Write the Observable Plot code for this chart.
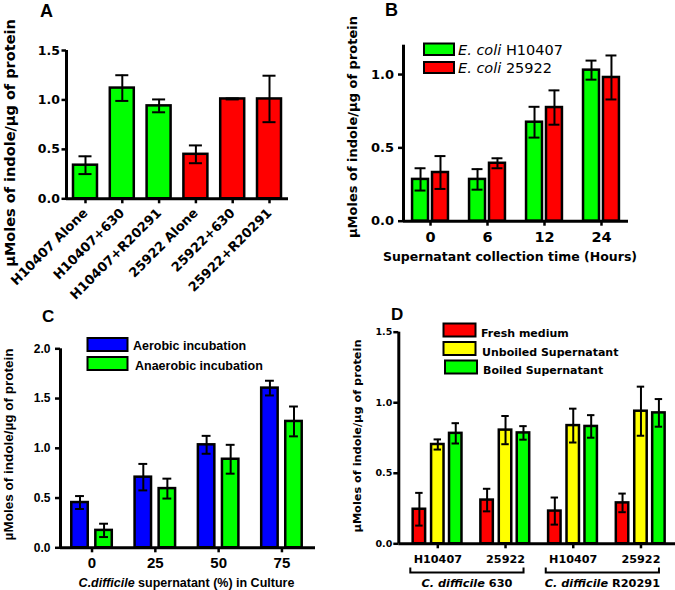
<!DOCTYPE html>
<html><head><meta charset="utf-8">
<script src="https://cdn.jsdelivr.net/npm/d3@7"></script>
<script src="https://cdn.jsdelivr.net/npm/@observablehq/plot@0.6"></script>
<style>
body{margin:0;background:#fff;}
#wrap{position:relative;width:675px;height:590px;overflow:hidden;background:#fff;}
#wrap svg{position:absolute;left:0;top:0;}
</style></head><body><div id="wrap"></div>
<script>
// ---------- DATA ----------
// Panel A
const catsA = ["H10407 Alone","H10407+630","H10407+R20291","25922 Alone","25922+630","25922+R20291"];
const strainA = ["H10407","H10407","H10407","25922","25922","25922"];
const meanA = [0.34, 1.12, 0.94, 0.45, 1.01, 1.01];
const sdA   = [0.09, 0.13, 0.065, 0.09, 0.005, 0.235];
const yTicksA = [0, 0.5, 1.0, 1.5];

// Panel B
const timesB = ["0","6","12","24"];
const seriesB = ["E. coli H10407","E. coli 25922"];
const h10407B = [0.285, 0.285, 0.675, 1.03];
const h10407SdB = [0.076, 0.07, 0.105, 0.065];
const s25922B = [0.332, 0.395, 0.775, 0.98];
const s25922SdB = [0.112, 0.034, 0.117, 0.15];
const yTicksB = [0, 0.5, 1.0];

// Panel C
const pctC = ["0","25","50","75"];
const seriesC = ["Aerobic incubation","Anaerobic incubation"];
const aerobicC = [0.455, 0.71, 1.035, 1.605];
const aerobicSdC = [0.065, 0.133, 0.09, 0.074];
const anaerobicC = [0.175, 0.595, 0.89, 1.27];
const anaerobicSdC = [0.067, 0.1, 0.145, 0.15];
const yTicksC = [0, 0.5, 1.0, 1.5, 2.0];

// Panel D
const strainsD = ["H10407","25922","H10407","25922"];
const donorsD = ["C. difficile 630","C. difficile R20291"];
const seriesD = ["Fresh medium","Unboiled Supernatant","Boiled Supernatant"];
const freshD = [0.245, 0.31, 0.232, 0.29];
const freshSdD = [0.116, 0.08, 0.096, 0.066];
const unboiledD = [0.704, 0.806, 0.838, 0.94];
const unboiledSdD = [0.036, 0.1, 0.12, 0.174];
const boiledD = [0.783, 0.786, 0.832, 0.928];
const boiledSdD = [0.072, 0.048, 0.08, 0.098];
const yTicksD = [0, 0.5, 1.0, 1.5];

// ---------- STYLE ----------
const W = 675, H = 590;
const GREEN = "#00ff00", RED = "#ff0000", BLUE = "#0000ff", YELLOW = "#ffff00";
const DJ = "'DejaVu Sans', sans-serif";
const LB = "'Liberation Sans', Arial, sans-serif";
const wrap = document.getElementById("wrap");
const fmt1 = d3.format(".1f");

function panel(o) {
  const svg = Plot.plot({
    width: W, height: H,
    marginLeft: o.left, marginRight: W - o.right, marginTop: o.top, marginBottom: H - o.bottom,
    x: {type: "linear", domain: o.xdom},
    y: {domain: o.ydom},
    color: {type: "identity"},
    style: {background: "none", fontFamily: o.font, fontWeight: "bold", color: "black", overflow: "visible"},
    marks: [
      Plot.rectY(o.rows, {x1: d => d.x - o.hw, x2: d => d.x + o.hw, y1: 0, y2: "v", fill: "fill", stroke: "black", strokeWidth: 2.5}),
      Plot.ruleX(o.rows, {x: "x", y1: d => d.v - d.e, y2: d => d.v + d.e, stroke: "black", strokeWidth: 2}),
      Plot.ruleY(o.rows, {y: d => d.v + d.e, x1: d => d.x - o.cap, x2: d => d.x + o.cap, stroke: "black", strokeWidth: 2}),
      Plot.ruleY(o.rows, {y: d => d.v - d.e, x1: d => d.x - o.cap, x2: d => d.x + o.cap, stroke: "black", strokeWidth: 2}),
      Plot.ruleY([0], {stroke: "black", strokeWidth: 3}),
      Plot.ruleX([o.xdom[0]], {stroke: "black", strokeWidth: 3}),
      Plot.axisY({ticks: o.yticks, tickFormat: fmt1, tickSize: o.ytSize, tickPadding: o.ytPad, strokeWidth: 2.5, fontSize: o.yFont, fontFamily: o.yFamily || o.font, label: null}),
      Plot.axisX({ticks: o.xticks, tickFormat: o.xfmt, tickSize: 5, tickPadding: o.xtPad, strokeWidth: 2.5, fontSize: o.xFont, tickRotate: o.rot || 0, label: null})
    ]
  });
  svg.style.position = "absolute"; svg.style.left = "0px"; svg.style.top = "0px";
  wrap.appendChild(svg);
  return svg;
}

function txt(svg, x, y, parts, o) {
  const t = d3.select(svg).append("text")
    .attr("x", x).attr("y", y)
    .attr("font-family", o.family).attr("font-size", o.size)
    .attr("font-weight", o.weight || "bold")
    .attr("text-anchor", o.anchor || "start")
    .attr("fill", "black");
  if (o.rotate) t.attr("transform", `rotate(${o.rotate},${x},${y})`);
  (Array.isArray(parts) ? parts : [[parts, false]]).forEach(([s, it]) => {
    t.append("tspan").attr("font-style", it ? "italic" : "normal").text(s);
  });
  return t;
}
function swatch(svg, x, y, w, h, fill) {
  d3.select(svg).append("rect").attr("x", x).attr("y", y).attr("width", w).attr("height", h)
    .attr("fill", fill).attr("stroke", "black").attr("stroke-width", 2);
}
const YLABEL = "\u00b5Moles of indole/\u00b5g of protein";

// ---------- PANEL A ----------
const colorA = {"H10407": GREEN, "25922": RED};
const rowsA = catsA.map((c, i) => ({x: i, v: meanA[i], e: sdA[i], fill: colorA[strainA[i]]}));
const svgA = panel({
  left: 66, right: 288, top: 50, bottom: 198.3,
  xdom: [-0.516, 5.516], ydom: [0, 1.5], rows: rowsA, hw: 0.326, cap: 0.177,
  font: DJ, yticks: yTicksA, ytSize: 4.5, ytPad: 2, yFont: 12.5,
  xticks: catsA.map((c, i) => i), xfmt: i => catsA[i], xtPad: 7, xFont: 13, rot: -45
});
txt(svgA, 40, 17, "A", {family: LB, size: 18});
txt(svgA, 14.5, 143, YLABEL, {family: DJ, size: 14.5, anchor: "middle", rotate: -90});

// ---------- PANEL B ----------
const colB = [GREEN, RED];
const offB = [-0.175, 0.175];
const valsB = [[h10407B, h10407SdB], [s25922B, s25922SdB]];
const rowsB = [];
timesB.forEach((t, g) => valsB.forEach(([v, e], s) => rowsB.push({x: g + offB[s], v: v[g], e: e[g], fill: colB[s]})));
const svgB = panel({
  left: 403, right: 628, top: 44.7, bottom: 220.7,
  xdom: [-0.474, 3.474], ydom: [0, 1.2], rows: rowsB, hw: 0.14, cap: 0.096,
  font: DJ, yticks: yTicksB, ytSize: 5, ytPad: 4.5, yFont: 13,
  xticks: timesB.map((t, i) => i), xfmt: i => timesB[i], xtPad: 6, xFont: 14.5
});
txt(svgB, 385, 16, "B", {family: LB, size: 18});
txt(svgB, 357, 127, YLABEL, {family: DJ, size: 13, anchor: "middle", rotate: -90});
txt(svgB, 510, 261, "Supernatant collection time (Hours)", {family: DJ, size: 12.5, anchor: "middle"});
seriesB.forEach((s, i) => {
  swatch(svgB, 424, [43.5, 62][i], 30, [11.5, 11][i], colB[i]);
  const [it, rest] = [s.slice(0, 7), s.slice(7)];
  txt(svgB, 458, [54.5, 73][i], [[it, true], [rest, false]], {family: DJ, size: 14.5, weight: "normal"});
});

// ---------- PANEL C ----------
const colC = [BLUE, GREEN];
const offC = [-0.19, 0.19];
const valsC = [[aerobicC, aerobicSdC], [anaerobicC, anaerobicSdC]];
const rowsC = [];
pctC.forEach((p, g) => valsC.forEach(([v, e], s) => rowsC.push({x: g + offC[s], v: v[g], e: e[g], fill: colC[s]})));
const svgC = panel({
  left: 60, right: 315, top: 348.3, bottom: 547.3,
  xdom: [-0.498, 3.53], ydom: [0, 2.0], rows: rowsC, hw: 0.13, cap: 0.07,
  font: LB, yticks: yTicksC, ytSize: 5, ytPad: 5, yFont: 12,
  xticks: pctC.map((p, i) => i), xfmt: i => pctC[i], xtPad: 4.5, xFont: 15
});
txt(svgC, 42, 322, "C", {family: LB, size: 17});
txt(svgC, 12.5, 444.5, YLABEL, {family: LB, size: 13.5, anchor: "middle", rotate: -90});
txt(svgC, 186.5, 586.5, [["C.difficile", true], [" supernatant (%) in Culture", false]], {family: LB, size: 12.5, anchor: "middle"});
seriesC.forEach((s, i) => {
  swatch(svgC, 87.5, [338, 357][i], 40, 13, colC[i]);
  txt(svgC, [133, 135][i], [349.5, 369.5][i], s, {family: LB, size: 12.5});
});

// ---------- PANEL D ----------
const colD = [RED, YELLOW, GREEN];
const offD = [-0.272, 0, 0.265];
const valsD = [[freshD, freshSdD], [unboiledD, unboiledSdD], [boiledD, boiledSdD]];
const rowsD = [];
strainsD.forEach((st, g) => valsD.forEach(([v, e], s) => rowsD.push({x: g + offD[s], v: v[g], e: e[g], fill: colD[s]})));
const svgD = panel({
  left: 398.3, right: 675, top: 331.7, bottom: 543.3,
  xdom: [-0.576, 3.51], ydom: [0, 1.5], rows: rowsD, hw: 0.092, cap: 0.055,
  font: DJ, yticks: yTicksD, ytSize: 5, ytPad: 1.5, yFont: 9.5,
  xticks: strainsD.map((s, i) => i), xfmt: i => strainsD[i], xtPad: 6.5, xFont: 11.2
});
txt(svgD, 391, 320, "D", {family: LB, size: 17});
txt(svgD, 361, 436, YLABEL, {family: DJ, size: 11.3, anchor: "middle", rotate: -90});
seriesD.forEach((s, i) => {
  swatch(svgD, [443.5, 443.5, 445][i], [323.5, 342, 360.5][i], 32, 13, colD[i]);
  txt(svgD, [481, 482, 483][i], [337, 355.5, 373.5][i], s, {family: DJ, size: 11});
});
// brackets grouping strains by donor
const xD = svgD.scale("x");
donorsD.forEach((dn, k) => {
  const a = xD.apply(2 * k) - 27, b = xD.apply(2 * k + 1) + 18.5;
  d3.select(svgD).append("path")
    .attr("d", `M${a},567.5V572.5H${b}V567.5`)
    .attr("fill", "none").attr("stroke", "black").attr("stroke-width", 2);
  const [it, rest] = [dn.slice(0, 12), dn.slice(12)];
  txt(svgD, (a + b) / 2, 586.5, [[it, true], [rest, false]], {family: DJ, size: 11.3, anchor: "middle"});
});
</script></body></html>
